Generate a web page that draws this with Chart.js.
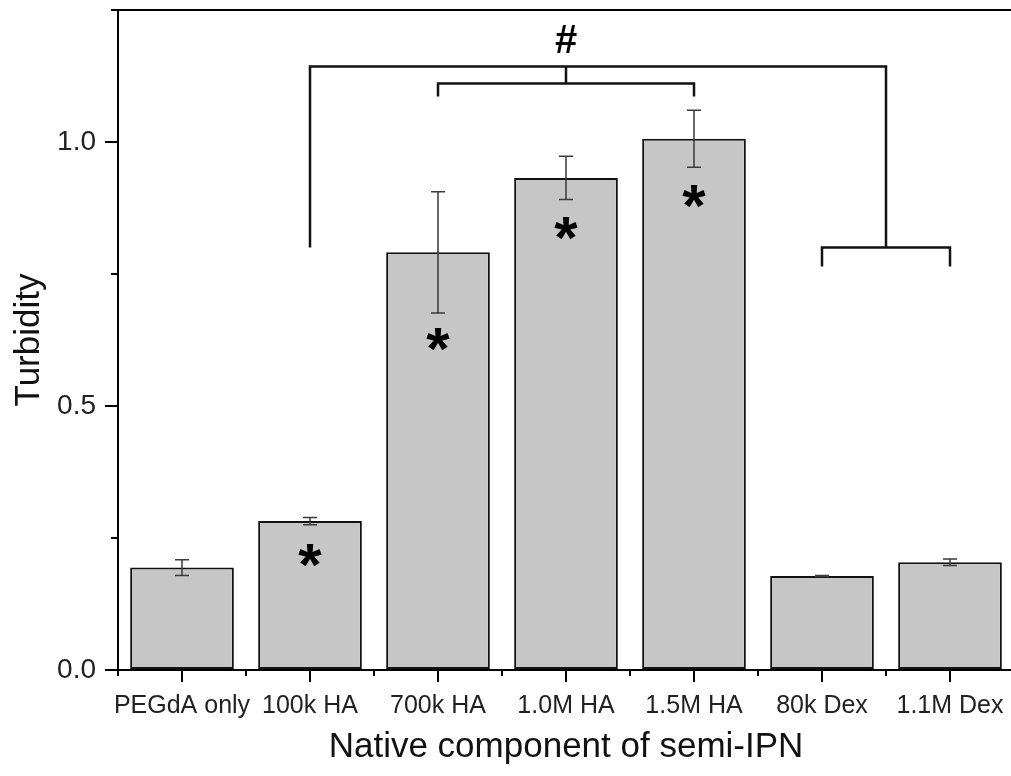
<!DOCTYPE html>
<html>
<head>
<meta charset="utf-8">
<script src="https://cdn.jsdelivr.net/npm/chart.js@4"></script>
<style>
  html, body { margin: 0; padding: 0; background: #fff; overflow: hidden; }
  #wrap { width: 1016px; height: 776px; }
</style>
</head>
<body>
<div id="wrap"><canvas id="myChart"></canvas></div>
<script>
(function(){
  'use strict';

  // values
  const categories = ['PEGdA only', '100k HA', '700k HA', '1.0M HA', '1.5M HA', '80k Dex', '1.1M Dex'];
  const turbidity = [0.194, 0.282, 0.791, 0.932, 1.006, 0.178, 0.204];
  const turbidityErr = [0.015, 0.007, 0.115, 0.041, 0.054, 0.001, 0.006];
  const starLevel = [null, 0.216, 0.625, 0.835, 0.896, null, null];
  const yTicks = [0, 0.5, 1.0];
  const yMinorTicks = [0.25, 0.75, 1.25];

  // significance brackets, as polylines in (category index, turbidity)
  const brackets = [
    [[1, 0.800], [1, 1.143], [5.5, 1.143], [5.5, 0.800]],
    [[2, 1.086], [2, 1.111], [4, 1.111], [4, 1.086]],
    [[3, 1.111], [3, 1.143]],
    [[5, 0.764], [5, 0.800], [6, 0.800], [6, 0.764]]
  ];
  const hashMark = { at: 3, level: 1.19, text: '#' };

  const fontFamily = '"Liberation Sans", Arial, sans-serif';

  const extras = {
    id: 'extras',
    afterDatasetsDraw(chart) {
      const ctx = chart.ctx;
      const x = chart.scales.x;
      const y = chart.scales.y;
      ctx.save();

      // error bars
      ctx.strokeStyle = '#3a3a3a';
      ctx.lineWidth = 1.5;
      for (let i = 0; i < turbidity.length; i++) {
        const cx = x.getPixelForValue(i);
        const hi = y.getPixelForValue(turbidity[i] + turbidityErr[i]);
        const lo = y.getPixelForValue(turbidity[i] - turbidityErr[i]);
        ctx.beginPath();
        ctx.moveTo(cx, hi); ctx.lineTo(cx, lo);
        ctx.moveTo(cx - 7, hi); ctx.lineTo(cx + 7, hi);
        ctx.moveTo(cx - 7, lo); ctx.lineTo(cx + 7, lo);
        ctx.stroke();
      }

      // asterisks
      ctx.fillStyle = '#000';
      ctx.font = 'bold 60px ' + fontFamily;
      ctx.textAlign = 'center';
      ctx.textBaseline = 'alphabetic';
      for (let i = 0; i < starLevel.length; i++) {
        if (starLevel[i] === null) continue;
        ctx.fillText('*', x.getPixelForValue(i), y.getPixelForValue(starLevel[i]) + 29);
      }

      // brackets
      ctx.strokeStyle = '#111';
      ctx.lineWidth = 2.5;
      ctx.lineCap = 'butt';
      ctx.lineJoin = 'miter';
      brackets.forEach(function(line){
        ctx.beginPath();
        line.forEach(function(p, k){
          const px = x.getPixelForValue(p[0]);
          const py = y.getPixelForValue(p[1]);
          if (k === 0) ctx.moveTo(px, py); else ctx.lineTo(px, py);
        });
        ctx.stroke();
      });

      ctx.font = 'bold 40px ' + fontFamily;
      ctx.textBaseline = 'middle';
      ctx.fillText(hashMark.text, x.getPixelForValue(hashMark.at), y.getPixelForValue(hashMark.level));
      ctx.restore();
    },
    afterDraw(chart) {
      const ctx = chart.ctx;
      const area = chart.chartArea;
      const x = chart.scales.x;
      const y = chart.scales.y;
      ctx.save();
      ctx.strokeStyle = '#000';
      ctx.lineWidth = 2;
      ctx.beginPath();
      // top frame line
      ctx.moveTo(area.left - 7, area.top);
      ctx.lineTo(chart.width, area.top);
      // minor ticks
      yMinorTicks.forEach(function(v){
        const py = y.getPixelForValue(v);
        ctx.moveTo(area.left - 7, py); ctx.lineTo(area.left, py);
      });
      for (let i = 0; i <= categories.length; i++) {
        const px = x.getPixelForValue(i - 0.5);
        ctx.moveTo(px, area.bottom); ctx.lineTo(px, area.bottom + 6);
      }
      ctx.stroke();
      ctx.restore();
    }
  };

  const ctx = document.getElementById('myChart').getContext('2d');
  new Chart(ctx, {
    type: 'bar',
    data: {
      labels: categories,
      datasets: [{
        label: 'Turbidity',
        data: turbidity,
        backgroundColor: '#c6c6c6',
        borderColor: '#111',
        borderWidth: 2,
        borderSkipped: false,
        barPercentage: 0.81,
        categoryPercentage: 1
      }]
    },
    options: {
      responsive: true,
      maintainAspectRatio: false,
      animation: false,
      layout: { padding: { top: 10, right: 2, left: 0, bottom: 0 } },
      plugins: {
        legend: { display: false },
        tooltip: { enabled: false }
      },
      scales: {
        x: {
          offset: true,
          grid: { display: true, offset: false, drawOnChartArea: false, drawTicks: true, tickLength: 12, color: '#000', lineWidth: 2 },
          border: { display: true, color: '#000', width: 2 },
          ticks: { color: '#222', font: { family: fontFamily, size: 25 }, padding: 9, maxRotation: 0, autoSkip: false },
          title: { display: true, text: 'Native component of semi-IPN', color: '#111', font: { family: fontFamily, size: 35 }, padding: { top: 0, bottom: 8 } },
          afterFit(scale) { scale.height = 106; scale.paddingLeft = 0; scale.paddingRight = 0; }
        },
        y: {
          min: 0,
          max: 1.25,
          afterBuildTicks(scale) { scale.ticks = yTicks.map(function(v){ return { value: v }; }); },
          grid: { display: true, drawOnChartArea: false, drawTicks: true, tickLength: 13, color: '#000', lineWidth: 2 },
          border: { display: true, color: '#000', width: 2 },
          ticks: { color: '#222', font: { family: fontFamily, size: 28 }, padding: 9, callback: function(v){ return Number(v).toFixed(1); } },
          title: { display: true, text: 'Turbidity', color: '#111', font: { family: fontFamily, size: 35 }, padding: { top: 8, bottom: 0 } },
          afterFit(scale) { scale.width = 118; scale.paddingTop = 0; scale.paddingBottom = 0; }
        }
      }
    },
    plugins: [extras]
  });
})();
</script>
</body>
</html>
